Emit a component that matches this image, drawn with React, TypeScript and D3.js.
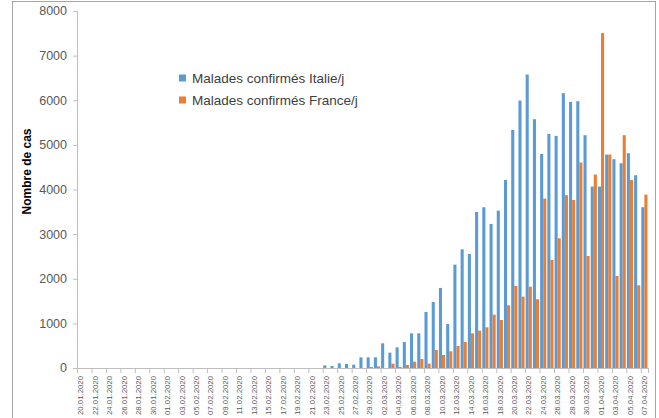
import React from 'react';
import * as d3 from 'd3';

// one label per day, 20.01 to 07.04
const dates = [
  '20.01.2020', '21.01.2020', '22.01.2020', '23.01.2020', '24.01.2020', '25.01.2020', '26.01.2020',
  '27.01.2020', '28.01.2020', '29.01.2020', '30.01.2020', '31.01.2020',
  '01.02.2020', '02.02.2020', '03.02.2020', '04.02.2020', '05.02.2020', '06.02.2020', '07.02.2020',
  '08.02.2020', '09.02.2020', '10.02.2020', '11.02.2020', '12.02.2020', '13.02.2020', '14.02.2020',
  '15.02.2020', '16.02.2020', '17.02.2020', '18.02.2020', '19.02.2020', '20.02.2020', '21.02.2020',
  '22.02.2020', '23.02.2020', '24.02.2020', '25.02.2020', '26.02.2020', '27.02.2020', '28.02.2020',
  '29.02.2020',
  '01.03.2020', '02.03.2020', '03.03.2020', '04.03.2020', '05.03.2020', '06.03.2020', '07.03.2020',
  '08.03.2020', '09.03.2020', '10.03.2020', '11.03.2020', '12.03.2020', '13.03.2020', '14.03.2020',
  '15.03.2020', '16.03.2020', '17.03.2020', '18.03.2020', '19.03.2020', '20.03.2020', '21.03.2020',
  '22.03.2020', '23.03.2020', '24.03.2020', '25.03.2020', '26.03.2020', '27.03.2020', '28.03.2020',
  '29.03.2020', '30.03.2020', '31.03.2020',
  '01.04.2020', '02.04.2020', '03.04.2020', '04.04.2020', '05.04.2020', '06.04.2020', '07.04.2020',
];

const italie = [
  0, 0, 0, 0, 0, 0, 0, 0, 0, 0, 0, 0,
  0, 0, 0, 0, 0, 0, 0, 0, 0, 0, 0, 0, 0, 0, 0, 0, 0, 0, 0, 0, 0, 0,
  60, 45, 105, 90, 75, 239, 239,
  239, 553, 344, 463, 583, 777, 777, 1256, 1480, 1794, 987, 2316, 2660, 2556, 3498,
  3603, 3229, 3527, 4215, 5336, 5994, 6577, 5575, 4798, 5247, 5202, 6159, 5964, 5978, 5217, 4066,
  4066, 4783, 4679, 4589, 4813, 4320, 3603,
];

const france = [
  0, 0, 0, 0, 0, 0, 0, 0, 0, 0, 0, 0,
  0, 0, 0, 0, 0, 0, 0, 0, 0, 0, 0, 0, 0, 0, 0, 0, 0, 0, 0, 0, 0, 0,
  0, 0, 0, 0, 0, 0, 22,
  37, 0, 97, 22, 67, 142, 202, 97, 404, 291, 374, 493, 583, 777, 837,
  912, 1195, 1076, 1405, 1839, 1599, 1823, 1540, 3796, 2422, 2907, 3872, 3767, 4604, 2511, 4335,
  7504, 4783, 2063, 5217, 4215, 1854, 3886,
];

const yTicks = [0, 1000, 2000, 3000, 4000, 5000, 6000, 7000, 8000];

const series = [
  { name: 'Malades confirmés Italie/j', values: italie, color: '#5b9bd5' },
  { name: 'Malades confirmés France/j', values: france, color: '#ed7d31' },
];

const W = 659;
const H = 418;
const left = 77;
const right = 648;
const top = 11;
const bottom = 368;

const App = () => {
  const x = d3.scaleBand<string>().domain(dates).range([left, right]).paddingInner(0.15).paddingOuter(0.075);
  const xStep = d3.scaleBand<string>().domain(dates).range([left, right]);
  const sub = d3.scaleBand<number>().domain([0, 1]).range([0, x.bandwidth()]);
  const y = d3.scaleLinear().domain([0, 8000]).range([bottom, top]);

  const font = '"Liberation Sans", Arial, sans-serif';

  return (
    <svg width={W} height={H} style={{ position: 'absolute', left: 0, top: 0 }} fontFamily={font}>
      <rect x={0} y={0} width={W} height={H} fill="#fff" />
      <rect x={12.5} y={1.5} width={643} height={440} fill="none" stroke="#a6a6a6" />

      {/* y axis */}
      <line x1={left + 0.5} x2={left + 0.5} y1={top} y2={bottom} stroke="#bfbfbf" />
      {yTicks.map((t) => (
        <g key={t}>
          <line x1={left - 4} x2={left} y1={y(t) + 0.5} y2={y(t) + 0.5} stroke="#bfbfbf" />
          <text x={left - 10} y={y(t)} dy="0.35em" textAnchor="end" fontSize={12.5} fill="#595959">
            {t}
          </text>
        </g>
      ))}
      <text
        transform={`translate(27,${(top + bottom) / 2 - 18}) rotate(-90)`}
        textAnchor="middle"
        dy="0.35em"
        fontSize={12}
        fontWeight="bold"
        fill="#000"
      >
        Nombre de cas
      </text>

      {/* bars */}
      {series.map((s, si) =>
        s.values.map((v, i) =>
          v > 0 ? (
            <rect
              key={`${si}-${i}`}
              x={x(dates[i])! + sub(si)!}
              y={y(v)}
              width={sub.bandwidth()}
              height={bottom - y(v)}
              fill={s.color}
            />
          ) : null,
        ),
      )}

      {/* x axis */}
      <line x1={left} x2={right} y1={bottom + 0.5} y2={bottom + 0.5} stroke="#bfbfbf" />
      {dates.map((d, i) =>
        i % 2 === 0 ? (
          <g key={d}>
            <line
              x1={xStep(d)! + 0.5}
              x2={xStep(d)! + 0.5}
              y1={bottom}
              y2={bottom + 5}
              stroke="#bfbfbf"
            />
            <text
              transform={`translate(${xStep(d)! + xStep.bandwidth() / 2},${bottom + 8}) rotate(-90)`}
              textAnchor="end"
              dy="0.35em"
              fontSize={7.8}
              fill="#595959"
            >
              {d}
            </text>
          </g>
        ) : null,
      )}
      <line x1={right + 0.5} x2={right + 0.5} y1={bottom} y2={bottom + 5} stroke="#bfbfbf" />

      {/* legend */}
      {series.map((s, i) => (
        <g key={s.name} transform={`translate(179,${78 + i * 22})`}>
          <rect x={0} y={-3.5} width={7} height={7} fill={s.color} />
          <text x={13} y={0} dy="0.35em" fontSize={13.5} fill="#404040">
            {s.name}
          </text>
        </g>
      ))}
    </svg>
  );
};

export default App;
